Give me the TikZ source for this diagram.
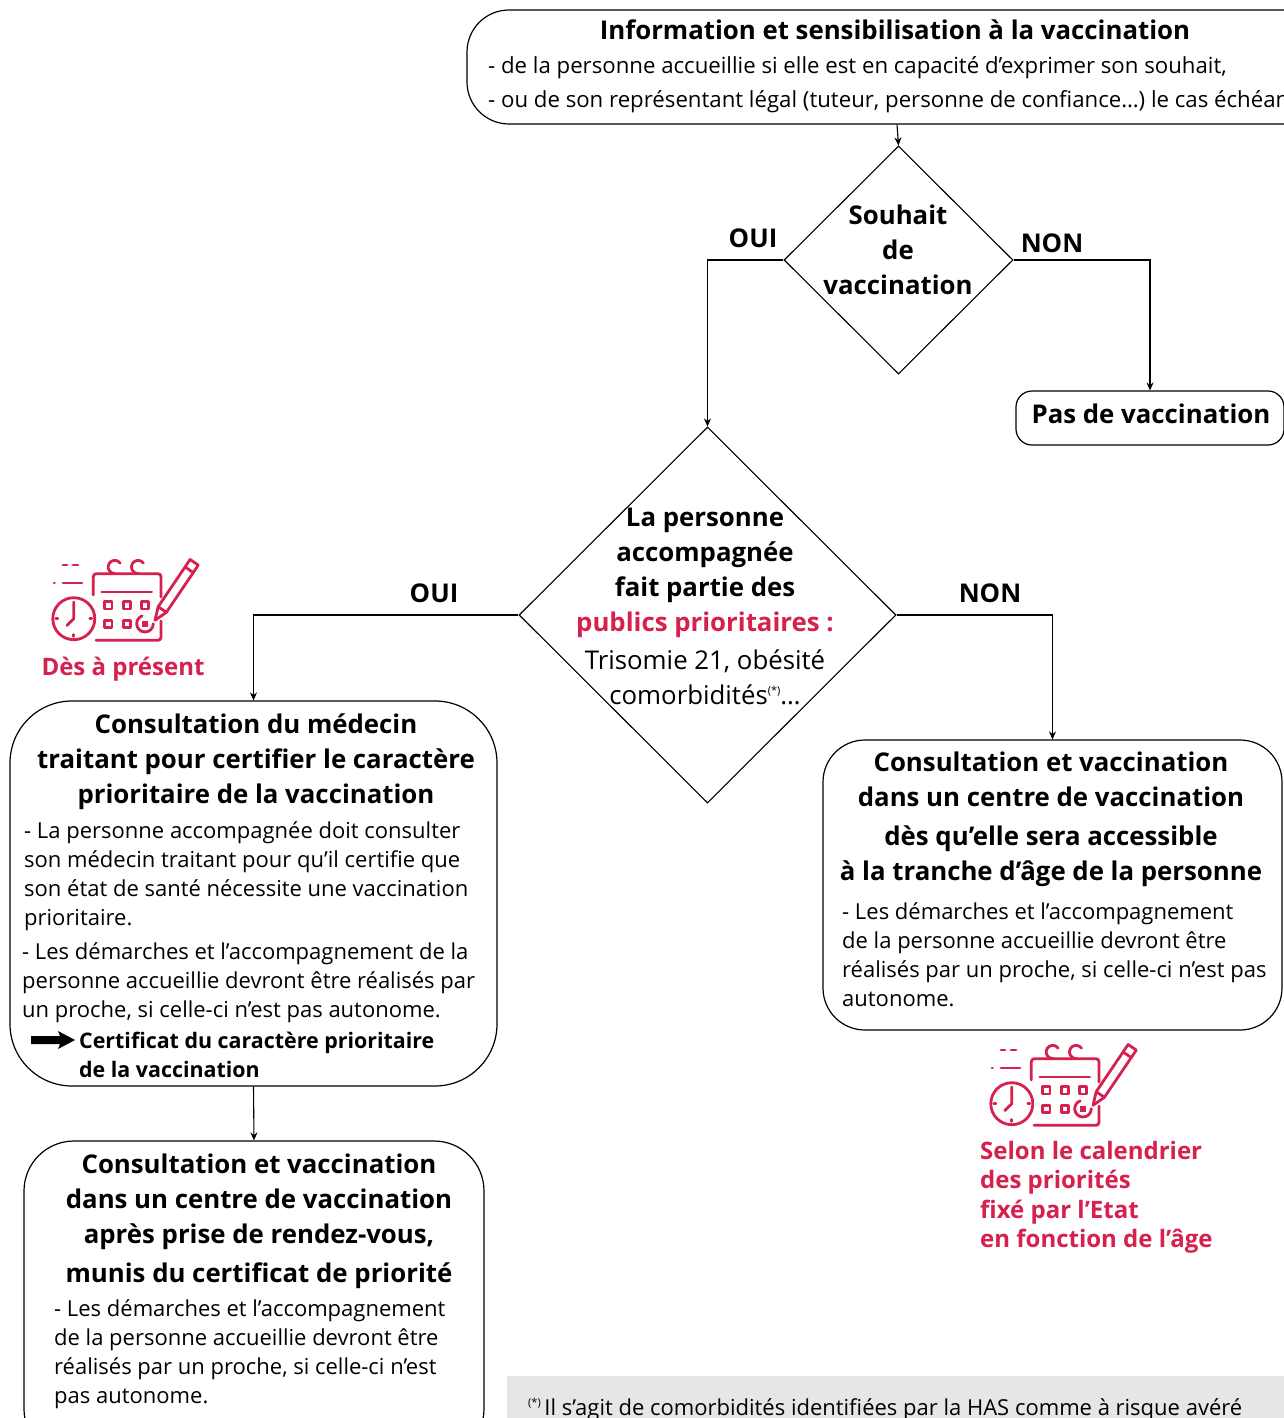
\documentclass[tikz,border=0pt]{standalone}
\usepackage{fontspec}
\setmainfont{Open Sans}
\usetikzlibrary{shapes.geometric,arrows.meta}
\definecolor{crim}{RGB}{214,32,78}
\definecolor{fnbg}{RGB}{230,230,230}
\newcommand{\ttlfont}{\bfseries\fontsize{25.8}{35}\selectfont}
\newcommand{\bodyfont}{\fontsize{22}{29}\selectfont}
\newcommand{\supst}{\raisebox{0.7ex}{\fontsize{11}{11}\selectfont(*)}}
\tikzset{
  box/.style={draw, line width=1.2pt, inner sep=0pt},
  dia/.style={draw, diamond, aspect=1, line width=1.1pt, inner sep=0pt},
  arr/.style={draw, line width=1.1pt, -{Stealth[length=8pt,width=7pt]}},
  ttl/.style={inner sep=0pt, font=\ttlfont, align=center},
  body/.style={inner sep=0pt, font=\bodyfont, align=left, anchor=north west},
  lbl/.style={inner sep=0pt, font=\ttlfont},
  calicon/.pic={
    \begin{scope}[crim, line width=2.8pt, line cap=round, line join=round]
      % small dashes
      \draw (13,8) -- (17,8) (23,8) -- (28,8);
      \draw (4,26) -- (4.5,26) (13,26) -- (32,26);
      % clock
      \draw (23.8,61.7) circle[radius=21];
      \draw (23.8,45) -- (23.8,61.7) -- (16.8,68.5);
      \draw (41.8,61.7) -- (39.8,61.7) (23.8,79.5) -- (23.8,77.5) (5.8,61.7) -- (7.8,61.7);
      % calendar frame
      \draw[rounded corners=3pt] (43.3,38) -- (43.3,16.7) -- (111,16.7) -- (111,40);
      \draw[rounded corners=3pt] (111,64) -- (111,83.3) -- (46,83.3);
      \draw (51.7,35) -- (101.7,35);
      % rings
      \draw (70.2,6.2) arc[start angle=-35, end angle=-270, radius=6.6] -- (65,16.7);
      \draw (93.5,6.2) arc[start angle=-35, end angle=-270, radius=6.6] -- (88.3,16.7);
      % squares
      \foreach \cx/\cy in {58.3/48.3, 76.7/48.3, 95/48.3, 58.3/66.7, 76.7/66.7}
        \draw (\cx-3.6,\cy-3.6) rectangle (\cx+3.6,\cy+3.6);
      \fill (91.8,63.5) rectangle (98.2,69.9);
      \draw (103.3,66.7) arc[start angle=0, end angle=250, radius=8.3];
      % pencil
      \draw (105,63.3) -- (116.4,55.3) -- (148.3,8.1) -- (140.1,2.5) -- (108.2,49.7) -- cycle;
      \draw (116.4,55.3) -- (108.2,49.7);
      \draw (143.3,15.6) -- (135.1,10.0);
    \end{scope}
  }
}
\begin{document}
\begin{tikzpicture}[x=1pt,y=-1pt]
\useasboundingbox (0,0) rectangle (1284,1418);
\fill[white] (0,0) rectangle (1284,1418);

% ---------- boxes ----------
\node[box, rounded corners=42pt, minimum width=860pt, minimum height=114pt] (top) at (897,67) {};
\node[dia, minimum width=229pt, minimum height=228pt] (d1) at (898.5,260) {};
\node[box, rounded corners=16pt, minimum width=268pt, minimum height=54pt] (pas) at (1150,418) {};
\node[dia, minimum width=377pt, minimum height=376pt] (d2) at (707.5,615) {};
\node[box, rounded corners=62pt, minimum width=487pt, minimum height=385pt] (L1) at (253.5,893.5) {};
\node[box, rounded corners=50pt, minimum width=460pt, minimum height=318pt] (L2) at (254,1300) {};
\node[box, rounded corners=42pt, minimum width=459pt, minimum height=290pt] (R) at (1052.5,885) {};

% ---------- connectors ----------
\draw[arr] (top.south) -- (d1.north);
\draw[arr] (d1.west) -| (d2.north);
\draw[arr] (d1.east) -| (pas.north);
\draw[arr] (d2.west) -| (L1.north);
\draw[arr] (d2.east) -| (R.north);
\draw[arr] (L1.south) -- (L2.north);

% ---------- labels ----------
\node[lbl] (oui1) at (753,238) {OUI};
\node[lbl] (non1) at (1052,243) {NON};
\node[lbl] (oui2) at (434,593) {OUI};
\node[lbl] (non2) at (990,593) {NON};

% ---------- texts ----------
\node[ttl] (toptitle) at (895,30) {Information et sensibilisation à la vaccination};
\node[inner sep=0pt, font=\fontsize{22.2}{34}\selectfont, align=left, anchor=north west] (topbody) at (488,56)
  {- de la personne accueillie si elle est en capacité d’exprimer son souhait,\\
   - ou de son représentant légal (tuteur, personne de confiance…) le cas échéant};

\node[ttl] (d1txt) at (898,250) {Souhait\\de\\vaccination};
\node[lbl] (pastxt) at (1151,414) {Pas de vaccination};

\node[inner sep=0pt, align=center, font=\ttlfont] (d2txt) at (705,606)
  {La personne\\accompagnée\\fait partie des\\
   {\color{crim}publics prioritaires :}\\[3pt]
   {\mdseries Trisomie 21, obésité}\\
   {\mdseries comorbidités\supst…}};

\node[ttl] (L1title) at (256,762) {Consultation du médecin\\traitant pour certifier le caractère\\prioritaire de la vaccination};
\node[body] (L1body) at (22,821)
  {\hspace*{2pt}- La personne accompagnée doit consulter\\
   \hspace*{2pt}son médecin traitant pour qu’il certifie que\\
   \hspace*{2pt}son état de santé nécessite une vaccination\\
   \hspace*{2pt}prioritaire.\\[5pt]
   - Les démarches et l’accompagnement de la\\
   personne accueillie devront être réalisés par\\
   un proche, si celle-ci n’est pas autonome.};
\fill (31,1036) -- (60,1036) -- (58,1031) -- (75,1040) -- (58,1049) -- (60,1044) -- (31,1044) -- cycle;
\node[body, font=\bfseries\fontsize{21.4}{29}\selectfont] (L1cert) at (79,1032) {Certificat du caractère prioritaire\\de la vaccination};

\node[ttl] (L2title) at (259,1221) {Consultation et vaccination\\dans un centre de vaccination\\après prise de rendez-vous,\\[4pt]munis du certificat de priorité};
\node[body] (L2body) at (54,1299)
  {- Les démarches et l’accompagnement\\de la personne accueillie devront être\\réalisés par un proche, si celle-ci n’est\\pas autonome.};

\node[ttl] (Rtitle) at (1051,819) {Consultation et vaccination\\dans un centre de vaccination\\[4pt]dès qu’elle sera accessible\\à la tranche d’âge de la personne};
\node[body] (Rbody) at (842,902)
  {- Les démarches et l’accompagnement\\de la personne accueillie devront être\\réalisés par un proche, si celle-ci n’est pas\\autonome.};

% ---------- icons ----------
\pic at (50,557) {calicon};
\node[inner sep=0pt, font=\bfseries\fontsize{24}{29.3}\selectfont, text=crim] (now) at (123,669) {Dès à présent};
\pic at (988,1042) {calicon};
\node[body, font=\bfseries\fontsize{24}{29.3}\selectfont, text=crim] (cal) at (980,1141)
  {Selon le calendrier\\des priorités\\fixé par l’Etat\\en fonction de l’âge};

% ---------- footnote ----------
\fill[fnbg] (507,1376) rectangle (1290,1425);
\node[inner sep=0pt, anchor=base west, font=\bodyfont] (fn) at (528,1415)
  {\supst\,Il s’agit de comorbidités identifiées par la HAS comme à risque avéré};
\end{tikzpicture}
\end{document}
